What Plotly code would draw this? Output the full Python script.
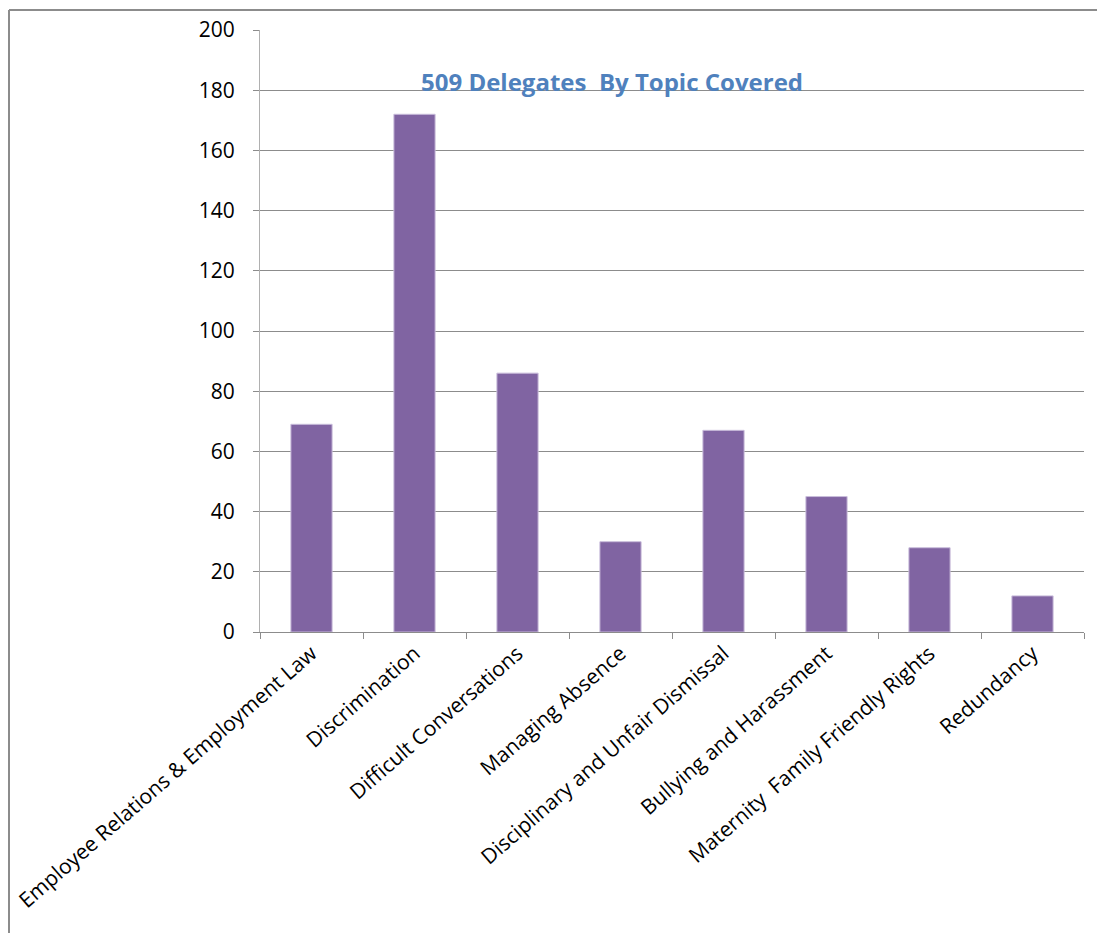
import plotly.graph_objects as go

categories = [
    "Employee Relations & Employment Law",
    "Discrimination",
    "Difficult Conversations",
    "Managing Absence",
    "Disciplinary and Unfair Dismissal",
    "Bullying and Harassment",
    "Maternity  Family Friendly Rights",
    "Redundancy",
]
delegates = [69, 172, 86, 30, 67, 45, 28, 12]
y_ticks = [0, 20, 40, 60, 80, 100, 120, 140, 160, 180, 200]
title_text = "509 Delegates  By Topic Covered"

W, H = 1097, 933
L, R, T, B = 260, 13, 30, 301
pw, ph = W - L - R, H - T - B

def px(x):
    return (x - L) / pw

def py(y):
    return (H - B - y) / ph

fig = go.Figure()
fig.add_trace(go.Bar(
    x=categories, y=delegates,
    marker=dict(color="#8064A2", line=dict(color="#c9bddb", width=1)),
    width=0.4,
))

font = "Open Sans, Liberation Sans, sans-serif"
fig.update_layout(
    width=W, height=H,
    margin=dict(l=L, r=R, t=T, b=B),
    paper_bgcolor="white", plot_bgcolor="white",
    showlegend=False,
    bargap=0.6,
    font=dict(family=font, size=21, color="#000000"),
    xaxis=dict(
        type="category", tickangle=-41, tickson="boundaries",
        ticks="outside", ticklen=6, tickcolor="#8c8c8c",
        showline=True, linecolor="#8c8c8c", linewidth=1,
        showgrid=False, automargin=False,
        tickfont=dict(family=font, size=21, color="#000"),
    ),
    yaxis=dict(
        range=[0, 200], tickvals=y_ticks, ticks="outside", ticklen=6,
        tickcolor="#8c8c8c", showline=True, linecolor="#b0b0b0", linewidth=1,
        showgrid=True, gridcolor="#8c8c8c", gridwidth=1, zeroline=False,
        ticklabelstandoff=14, automargin=False,
        tickfont=dict(family=font, size=21, color="#000"),
    ),
    annotations=[dict(
        text="<b>" + title_text + "</b>", x=px(612), y=py(81),
        xref="paper", yref="paper", showarrow=False,
        font=dict(family=font, size=24, color="#4F81BD"),
        xanchor="center", yanchor="middle",
    )],
    shapes=[
        dict(type="line", xref="paper", yref="paper", x0=px(9), x1=px(1100),
             y0=py(10), y1=py(10), line=dict(color="#8c8c8c", width=2)),
        dict(type="line", xref="paper", yref="paper", x0=px(9), x1=px(9),
             y0=py(10), y1=py(940), line=dict(color="#8c8c8c", width=2)),
    ],
)

fig.write_html("out.html")
